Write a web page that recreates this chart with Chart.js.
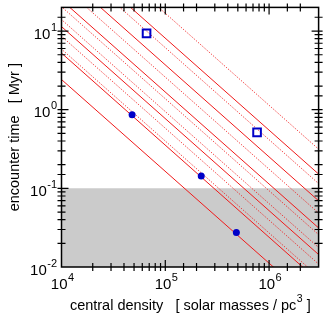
<!DOCTYPE html>
<html>
<head>
  <meta charset="UTF-8" />
  <title>Encounter time vs central density</title>
  <script src="https://cdn.jsdelivr.net/npm/chart.js"></script>
  <style>
    body { margin: 0; background: #fff; }
  </style>
</head>
<body>
  <canvas id="chart" width="326" height="315"></canvas>
  <script>
    // axis ranges
    const densityRange = [1e4, 3e6];   // solar masses / pc^3
    const timeRange = [0.01, 20];      // Myr
    const shadeBelow = 0.1;            // grey band: encounter time < 0.1 Myr

    // encounter time of each line at the left (1e4) and right (3e6) edge
    const solidLeft  = [2.42, 5.25, 11.4, 24.8, 55, 120];
    const solidRight = [0.0031, 0.0066, 0.0144, 0.0314, 0.0695, 0.152];
    const dottedLeft  = [5.9, 8.6, 14.0, 20.4, 38.4, 91, 249];
    const dottedRight = [0.0075, 0.0109, 0.0177, 0.0258, 0.0485, 0.115, 0.315];

    // marked clusters
    const dotDensity = [47900, 222000, 484000];
    const dotTime = [0.86, 0.144, 0.0274];
    const squareDensity = [66000, 766000];
    const squareTime = [9.36, 0.516];

    const FONT = "'Liberation Sans', Arial, sans-serif";
    const RED = '#f01a1a';
    const BLUE = '#0000c8';

    const lineSet = (lefts, rights, dash) => lefts.map((t, i) => ({
      data: [{ x: densityRange[0], y: t }, { x: densityRange[1], y: rights[i] }],
      showLine: true, borderColor: RED, borderWidth: 1, borderDash: dash,
      pointRadius: 0, order: 2
    }));

    const datasets = [
      {
        data: [{ x: densityRange[0], y: shadeBelow }, { x: densityRange[1], y: shadeBelow }],
        showLine: true, fill: 'start', backgroundColor: '#cbcbcb',
        borderWidth: 0, borderColor: 'rgba(0,0,0,0)', pointRadius: 0, order: 10
      },
      ...lineSet(solidLeft, solidRight, []),
      ...lineSet(dottedLeft, dottedRight, [1, 1.5]),
      {
        data: dotDensity.map((d, i) => ({ x: d, y: dotTime[i] })),
        pointStyle: 'circle', pointRadius: 3.5, backgroundColor: BLUE,
        borderColor: BLUE, borderWidth: 0, order: 0
      },
      {
        data: squareDensity.map((d, i) => ({ x: d, y: squareTime[i] })),
        pointStyle: 'rect', pointRadius: 5.4, backgroundColor: 'rgba(0,0,0,0)',
        borderColor: BLUE, borderWidth: 2, order: 0
      }
    ];

    const isDecade = v => Math.abs(Math.log10(v) - Math.round(Math.log10(v))) < 1e-6;

    function power(ctx, exp, left, baseY, supY) {
      ctx.font = '15px ' + FONT;
      ctx.fillText('10', left, baseY);
      const w = ctx.measureText('10').width;
      ctx.font = '11px ' + FONT;
      ctx.fillText(String(exp), left + w + 0.5, supY);
    }
    function powerWidth(ctx, exp) {
      ctx.font = '15px ' + FONT;
      const w = ctx.measureText('10').width;
      ctx.font = '11px ' + FONT;
      return w + 0.5 + ctx.measureText(String(exp)).width;
    }

    const framePlugin = {
      id: 'frame',
      afterDraw(chart) {
        const { ctx, chartArea: a, scales: { x, y } } = chart;
        ctx.save();
        ctx.strokeStyle = '#000';
        ctx.fillStyle = '#000';
        ctx.lineWidth = 1.2;
        ctx.beginPath();
        x.ticks.forEach(t => {
          const px = x.getPixelForValue(t.value);
          if (px <= a.left + 1 || px >= a.right - 1) return;
          const inn = isDecade(t.value) ? 7 : 4;
          ctx.moveTo(px, a.bottom + 4); ctx.lineTo(px, a.bottom - inn);
          ctx.moveTo(px, a.top - 4); ctx.lineTo(px, a.top + inn);
        });
        y.ticks.forEach(t => {
          const py = y.getPixelForValue(t.value);
          if (py <= a.top + 1 || py >= a.bottom - 1) return;
          const inn = isDecade(t.value) ? 7 : 4;
          ctx.moveTo(a.left - 4, py); ctx.lineTo(a.left + inn, py);
          ctx.moveTo(a.right + 4, py); ctx.lineTo(a.right - inn, py);
        });
        ctx.stroke();
        ctx.lineWidth = 1.5;
        ctx.strokeRect(a.left, a.top, a.right - a.left, a.bottom - a.top);

        // tick labels
        ctx.textAlign = 'left';
        ctx.textBaseline = 'alphabetic';
        x.ticks.filter(t => isDecade(t.value)).forEach(t => {
          const e = Math.round(Math.log10(t.value));
          const px = x.getPixelForValue(t.value);
          power(ctx, e, px - powerWidth(ctx, e) / 2 + 1, a.bottom + 21.5, a.bottom + 13.5);
        });
        y.ticks.filter(t => isDecade(t.value)).forEach(t => {
          const e = Math.round(Math.log10(t.value));
          const py = y.getPixelForValue(t.value);
          power(ctx, e, 57 - powerWidth(ctx, e), py + 7.5, py - 0.5);
        });

        // axis titles
        const TF = '14.5px ' + FONT;
        ctx.font = TF;
        const xt1 = 'central density   [ solar masses / pc';
        const xt2 = ' ]';
        const w1 = ctx.measureText(xt1).width;
        const w3 = ctx.measureText(xt2).width;
        ctx.font = '10.5px ' + FONT;
        const w2 = ctx.measureText('3').width;
        const cx = (a.left + a.right) / 2;
        const sx = cx - (w1 + w2 + w3) / 2;
        ctx.font = TF;
        ctx.fillText(xt1, sx, 309.5);
        ctx.font = '10.5px ' + FONT;
        ctx.fillText('3', sx + w1 + 0.5, 302);
        ctx.font = TF;
        ctx.fillText(xt2, sx + w1 + w2 + 0.5, 309.5);

        ctx.translate(18.5, (a.top + a.bottom) / 2);
        ctx.rotate(-Math.PI / 2);
        ctx.textAlign = 'center';
        ctx.fillText('encounter time   [ Myr ]', 0, 0);
        ctx.restore();
      }
    };

    new Chart(document.getElementById('chart'), {
      type: 'scatter',
      data: { datasets },
      options: {
        responsive: false,
        animation: false,
        layout: { padding: { left: 0, top: 3, right: 2, bottom: 0 } },
        plugins: { legend: { display: false }, tooltip: { enabled: false } },
        scales: {
          x: {
            type: 'logarithmic', min: densityRange[0], max: densityRange[1],
            grid: { display: false }, border: { display: false },
            ticks: { display: false },
            afterFit: s => { s.height = 48; }
          },
          y: {
            type: 'logarithmic', min: timeRange[0], max: timeRange[1],
            grid: { display: false }, border: { display: false },
            ticks: { display: false },
            afterFit: s => { s.width = 61.5; }
          }
        }
      },
      plugins: [framePlugin]
    });
  </script>
</body>
</html>
